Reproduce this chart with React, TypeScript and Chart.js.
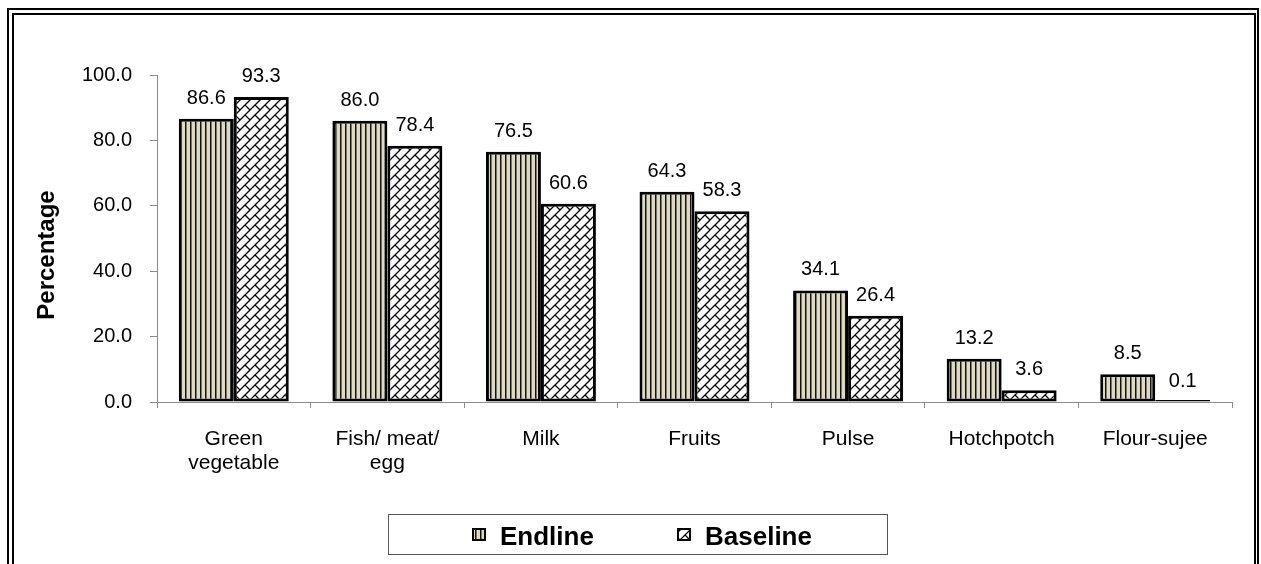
import { useEffect, useRef } from "react";
import { Chart, registerables } from "chart.js";

Chart.register(...registerables);

const FONT = "'Liberation Sans', Arial, sans-serif";

const categories: string[][] = [
  ["Green", "vegetable"],
  ["Fish/ meat/", "egg"],
  ["Milk"],
  ["Fruits"],
  ["Pulse"],
  ["Hotchpotch"],
  ["Flour-sujee"],
];
const endline = [86.6, 86.0, 76.5, 64.3, 34.1, 13.2, 8.5];
const baseline = [93.3, 78.4, 60.6, 58.3, 26.4, 3.6, 0.1];
const seriesNames = ["Endline", "Baseline"];
const yTickValues = [0, 20, 40, 60, 80, 100];
const yTitle = "Percentage";

function makeStripe(): CanvasPattern {
  const c = document.createElement("canvas");
  c.width = 5;
  c.height = 5;
  const g = c.getContext("2d")!;
  g.fillStyle = "#ddd9c3";
  g.fillRect(0, 0, 5, 5);
  g.fillStyle = "#111";
  g.fillRect(0, 0, 1, 5);
  g.fillStyle = "#7a7768";
  g.fillRect(1, 0, 1, 5);
  return g.createPattern(c, "repeat")!;
}

function makeBrick(): CanvasPattern {
  const T = 10;
  const c = document.createElement("canvas");
  c.width = T;
  c.height = T;
  const g = c.getContext("2d")!;
  g.fillStyle = "#fff";
  g.fillRect(0, 0, T, T);
  g.strokeStyle = "#000";
  g.lineWidth = 1.3;
  g.beginPath();
  g.moveTo(-1, T + 1);
  g.lineTo(T + 1, -1);
  g.moveTo(T / 2, T / 2);
  g.lineTo(T + 1, T + 1);
  g.moveTo(-1, -1);
  g.lineTo(0.5, 0.5);
  g.stroke();
  return g.createPattern(c, "repeat")!;
}

export default function App() {
  const ref = useRef<HTMLCanvasElement>(null);

  useEffect(() => {
    const canvas = ref.current!;
    const stripe = makeStripe();
    const brick = makeBrick();
    const fills = [stripe, brick];

    const framePlugin = {
      id: "frame",
      beforeDraw(chart: any) {
        const ctx = chart.ctx;
        ctx.save();
        ctx.fillStyle = "#fff";
        ctx.fillRect(0, 0, chart.width, chart.height);
        ctx.strokeStyle = "#000";
        ctx.lineWidth = 2;
        ctx.strokeRect(8, 9, 1250, 600);
        ctx.strokeRect(13, 14, 1242, 600);
        ctx.restore();
      },
    };

    const titlePlugin = {
      id: "ytitle",
      afterDraw(chart: any) {
        const ctx = chart.ctx;
        ctx.save();
        ctx.translate(54, 255);
        ctx.rotate(-Math.PI / 2);
        ctx.font = `bold 24px ${FONT}`;
        ctx.fillStyle = "#000";
        ctx.textAlign = "center";
        ctx.textBaseline = "alphabetic";
        ctx.fillText(yTitle, 0, 0);
        ctx.restore();
      },
    };

    const valuePlugin = {
      id: "values",
      afterDatasetsDraw(chart: any) {
        const ctx = chart.ctx;
        ctx.save();
        ctx.font = `20px ${FONT}`;
        ctx.fillStyle = "#000";
        ctx.textAlign = "center";
        ctx.textBaseline = "alphabetic";
        chart.data.datasets.forEach((ds: any, i: number) => {
          const meta = chart.getDatasetMeta(i);
          const scaleY = chart.scales.y;
          meta.data.forEach((el: any, j: number) => {
            const v = ds.data[j] as number;
            const top = scaleY.getPixelForValue(v);
            ctx.fillText(v.toFixed(1), el.x, top - 15);
          });
        });
        ctx.restore();
      },
    };

    const legendPlugin = {
      id: "boxlegend",
      afterDraw(chart: any) {
        const ctx = chart.ctx;
        ctx.save();
        ctx.strokeStyle = "#555";
        ctx.lineWidth = 1;
        ctx.strokeRect(388.5, 514.5, 499, 40);
        const iconX = [472, 677];
        const textX = [500, 705];
        ctx.font = `bold 26px ${FONT}`;
        ctx.fillStyle = "#000";
        ctx.textAlign = "left";
        ctx.textBaseline = "alphabetic";
        chart.data.datasets.forEach((ds: any, i: number) => {
          ctx.fillStyle = fills[i];
          ctx.fillRect(iconX[i], 528, 13, 12);
          ctx.strokeStyle = "#000";
          ctx.lineWidth = 2;
          ctx.strokeRect(iconX[i] + 1, 529, 12, 11);
          ctx.fillStyle = "#000";
          ctx.fillText(ds.label, textX[i], 545);
        });
        ctx.restore();
      },
    };

    const chart = new Chart(canvas, {
      type: "bar",
      data: {
        labels: categories,
        datasets: [
          {
            label: seriesNames[0],
            data: endline,
            backgroundColor: stripe,
            borderColor: "#000",
            borderWidth: 3,
            borderSkipped: false,
            categoryPercentage: 0.716,
            barPercentage: 1,
          },
          {
            label: seriesNames[1],
            data: baseline,
            backgroundColor: brick,
            borderColor: "#000",
            borderWidth: 3,
            borderSkipped: false,
            minBarLength: 2,
            categoryPercentage: 0.716,
            barPercentage: 1,
          },
        ],
      },
      options: {
        animation: false,
        responsive: false,
        devicePixelRatio: 1,
        layout: { padding: { top: 75, right: 29, bottom: 0, left: 0 } },
        plugins: {
          legend: { display: false },
          tooltip: { enabled: false },
          title: { display: false },
        },
        scales: {
          x: {
            grid: {
              offset: true,
              drawOnChartArea: false,
              tickLength: 6,
              color: "#8c8c8c",
            },
            border: { color: "#8c8c8c", width: 1 },
            ticks: {
              color: "#000",
              font: { family: FONT, size: 21, lineHeight: 1.14 },
              maxRotation: 0,
              autoSkip: false,
              padding: 19,
            },
            afterFit(scale: any) {
              scale.height = 162;
            },
          },
          y: {
            min: 0,
            max: 100,
            afterBuildTicks(scale: any) {
              scale.ticks = yTickValues.map((v) => ({ value: v }));
            },
            grid: {
              drawOnChartArea: false,
              tickLength: 7,
              color: "#8c8c8c",
            },
            border: { color: "#8c8c8c", width: 1 },
            ticks: {
              color: "#000",
              font: { family: FONT, size: 20 },
              padding: 18,
              callback: (v: any) => Number(v).toFixed(1),
            },
            afterFit(scale: any) {
              scale.width = 157;
            },
          },
        },
      },
      plugins: [framePlugin, titlePlugin, valuePlugin, legendPlugin],
    });

    return () => chart.destroy();
  }, []);

  return (
    <div
      style={{
        position: "absolute",
        left: 0,
        top: 0,
        width: 1261,
        height: 564,
        background: "#fff",
      }}
    >
      <canvas
        ref={ref}
        width={1261}
        height={564}
        style={{ display: "block", width: 1261, height: 564 }}
      />
    </div>
  );
}
